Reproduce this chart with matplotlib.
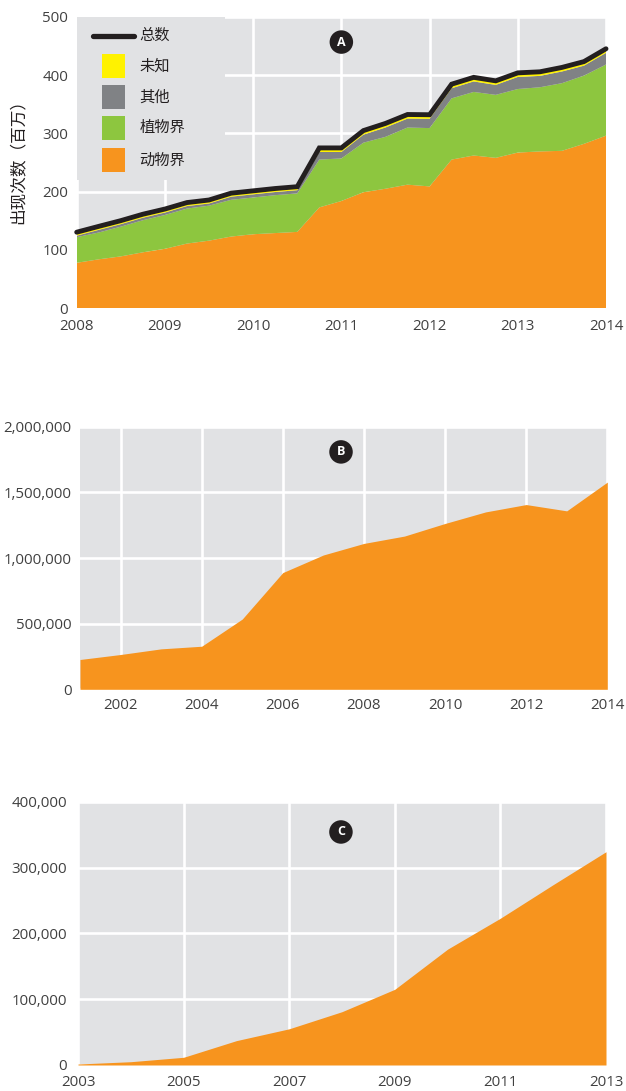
import matplotlib
matplotlib.use("Agg")
import matplotlib.pyplot as plt
from matplotlib.patches import Rectangle
from matplotlib.lines import Line2D
from matplotlib.ticker import FuncFormatter
import numpy as np

# ---- Panel A: quarterly occurrences (millions), 2008–2014 ----
quarters_a = np.arange(25) / 4 + 2008
animal_a = [78, 84, 89, 96, 102, 111, 116, 123, 127, 129, 131, 173, 184, 199, 205, 212,
            209, 255, 262, 258, 267, 269, 270, 282, 296]
plant_a = [44, 46, 51, 55, 58, 60, 60, 63, 63, 65, 66, 82, 73, 85, 89, 98,
           100, 105, 109, 108, 109, 110, 116, 117, 122]
other_a = [2.5, 4.5, 4.3, 4.3, 4.2, 4.3, 3.7, 5.4, 5.4, 5.4, 5.5, 13, 11, 13.7, 16, 15.3,
           15.9, 17.3, 18, 17, 20.7, 19.5, 20, 17, 20]
unknown_a = [6, 6, 6, 6, 6, 6, 6, 6, 6, 6, 6, 7, 7, 7, 7, 7, 7, 7, 7, 7, 7, 7, 7, 7, 7]
legend_labels = ["总数", "未知", "其他", "植物界", "动物界"]
ylabel_a = "出现次数（百万）"
xticks_a = [2008, 2009, 2010, 2011, 2012, 2013, 2014]
yticks_a = [0, 100, 200, 300, 400, 500]

# ---- Panel B: yearly records ----
years_b = list(range(2001, 2015))
values_b = [227000, 265000, 308000, 328000, 535000, 889000, 1023000, 1111000,
            1167000, 1263000, 1351000, 1407000, 1359000, 1578000]
xticks_b = [2002, 2004, 2006, 2008, 2010, 2012, 2014]
yticks_b = [0, 500000, 1000000, 1500000, 2000000]

# ---- Panel C: yearly records ----
years_c = list(range(2003, 2014))
values_c = [1500, 5000, 11700, 37000, 55000, 81000, 115000, 176000, 223000, 274000, 324000]
xticks_c = [2003, 2005, 2007, 2009, 2011, 2013]
yticks_c = [0, 100000, 200000, 300000, 400000]

BG = "#e1e2e4"
ORANGE = "#f7941e"
GREEN = "#8dc63f"
GREY = "#808285"
YELLOW = "#fff200"
BLACK = "#231f20"
TXT = "#404040"

CJK = ["Noto Sans CJK SC", "DejaVu Sans"]
plt.rcParams["font.family"] = ["Open Sans", "DejaVu Sans"]

W, H = 626, 1091
fig = plt.figure(figsize=(W / 100, H / 100), dpi=100)


def axes_px(left, top, right, bottom):
    return fig.add_axes([left / W, 1 - bottom / H, (right - left) / W, (bottom - top) / H])


def style(ax, xlim, ylim, xticks, yticks, xpad, ypad, fmt=None):
    ax.set_facecolor(BG)
    for s in ax.spines.values():
        s.set_visible(False)
    ax.set_xlim(*xlim)
    ax.set_ylim(*ylim)
    ax.set_xticks(xticks)
    ax.set_yticks(yticks)
    ax.grid(True, color="white", linewidth=1.9)
    ax.set_axisbelow(True)
    ax.tick_params(length=0, labelsize=10.8, labelcolor=TXT)
    ax.tick_params(axis="x", pad=xpad)
    ax.tick_params(axis="y", pad=ypad)
    if fmt:
        ax.yaxis.set_major_formatter(FuncFormatter(fmt))


def badge(ax, x, y, letter):
    ax.text(x, y, letter, transform=ax.transAxes, ha="center", va="center",
            color="white", fontsize=9, fontweight="bold", zorder=10,
            bbox=dict(boxstyle="circle,pad=0.42", fc=BLACK, ec="none"))


comma = lambda v, p: f"{int(v):,}"

# ---------------- Panel A ----------------
axA = axes_px(76.7, 16.7, 606, 308.3)
style(axA, (2008, 2014), (0, 500), xticks_a, yticks_a, 8, 6)
axA.stackplot(quarters_a, animal_a, plant_a, other_a, unknown_a,
              colors=[ORANGE, GREEN, GREY, YELLOW], linewidth=0, zorder=2)
total_a = np.sum([animal_a, plant_a, other_a, unknown_a], axis=0)
axA.plot(quarters_a, total_a, color=BLACK, linewidth=3.5, zorder=3,
         solid_capstyle="round", solid_joinstyle="miter", clip_on=False)

# legend panel, masking the grid behind it
axA.add_patch(Rectangle((0, 0.44), 0.28, 0.56, transform=axA.transAxes,
                        facecolor=BG, edgecolor="none", zorder=1.5))
axA.add_line(Line2D([0.03, 0.109], [0.935, 0.935], transform=axA.transAxes,
                    color=BLACK, linewidth=3.8, solid_capstyle="round", zorder=4))
axA.text(0.118, 0.935, legend_labels[0], transform=axA.transAxes, ha="left",
         va="center", fontsize=11, family=CJK, color="#231f20", zorder=4)
for yc, col, lab in zip([0.832, 0.725, 0.619, 0.509], [YELLOW, GREY, GREEN, ORANGE],
                        legend_labels[1:]):
    axA.add_patch(Rectangle((0.047, yc - 0.041), 0.045, 0.082, transform=axA.transAxes,
                            facecolor=col, edgecolor="none", zorder=4))
    axA.text(0.118, yc, lab, transform=axA.transAxes, ha="left", va="center",
             fontsize=11, family=CJK, color="#231f20", zorder=4)
badge(axA, 0.5, 0.913, "A")
fig.text(18 / W, 1 - 157 / H, ylabel_a, rotation=90, ha="center", va="center",
         fontsize=12, family=CJK, color="#231f20")

# ---------------- Panel B ----------------
axB = axes_px(80, 426.7, 607.3, 689.3)
style(axB, (2001, 2014), (0, 2000000), xticks_b, yticks_b, 6, 6, comma)
axB.fill_between(years_b, values_b, 0, color=ORANGE, linewidth=0, zorder=2)
badge(axB, 0.495, 0.904, "B")

# ---------------- Panel C ----------------
axC = axes_px(78, 801.7, 606, 1065)
style(axC, (2003, 2013), (0, 400000), xticks_c, yticks_c, 7, 8, comma)
axC.fill_between(years_c, values_c, 0, color=ORANGE, linewidth=0, zorder=2)
badge(axC, 0.498, 0.885, "C")

fig.savefig("out.png", dpi=100)
